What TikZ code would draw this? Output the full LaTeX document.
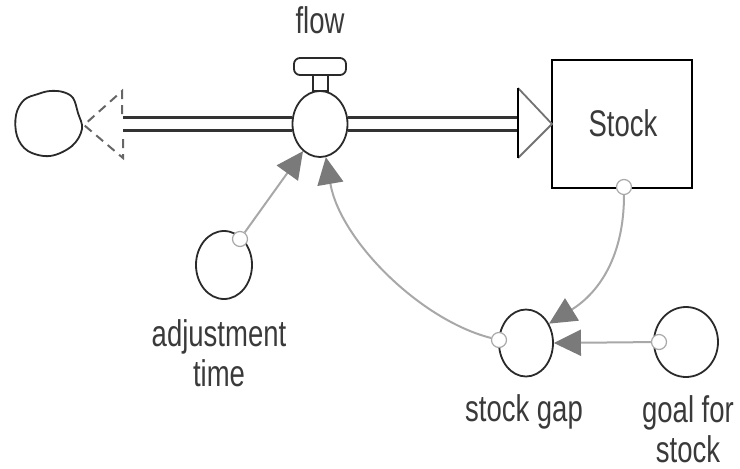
\documentclass[tikz,border=0pt]{standalone}
\usepackage{fontspec}
\setmainfont{Liberation Sans}
\usetikzlibrary{shapes.geometric,arrows.meta}
\definecolor{txt}{HTML}{3A3A3A}
\definecolor{edge}{HTML}{2A2A2A}
\definecolor{link}{HTML}{A8A8A8}
\definecolor{tip}{HTML}{7A7A7A}
\newcommand{\lbl}[1]{\scalebox{1}[1.35]{#1}}
\begin{document}
\begin{tikzpicture}[x=1pt,y=-1pt,
  aux/.style={draw=edge, line width=1.8pt, ellipse, inner sep=0pt},
  port/.style={draw=link, line width=1.2pt, fill=white, circle, inner sep=0pt, minimum size=15pt},
  infolink/.style={draw=link, line width=2pt,
    -{Triangle[length=27pt,width=26pt,fill=tip,color=tip]}},
  pipe/.style={draw=black!80, line width=3.2pt},
  label/.style={text=txt, font=\fontsize{27.5}{30}\selectfont, align=center, inner sep=0pt}]
\useasboundingbox (0,0) rectangle (740,469);

% source cloud
\draw[edge, line width=1.8pt] plot[smooth cycle, tension=0.6] coordinates
  {(24,100) (38,94) (50,91) (63,92) (73,98) (78,113) (82,129) (72,146)
   (50,156) (28,151) (17,136) (16,115)};
\coordinate (cloud) at (50,123);

% dashed inflow tip next to the cloud
\draw[black!60, line width=2pt, dash pattern=on 9pt off 6pt]
  (122,114) -- (122,91) -- (84,125) -- (123,158) -- (123,136);

% valve
\node[aux, minimum width=55pt, minimum height=66pt] (flowv) at (320,124) {};
\draw[edge, line width=1.8pt] (313,91) rectangle (328,75);
\draw[edge, line width=1.8pt, fill=white, rounded corners=6pt] (294,58) rectangle (346,75);
\node[label] (flowlbl) at (320,20) {\lbl{flow}};

% stock
\node[draw=black, line width=2.5pt, minimum width=140pt, minimum height=128pt, inner sep=0pt]
  (stock) at (622,124) {};
\node[label] (stocklbl) at (623,123) {\lbl{Stock}};

% pipes
\coordinate (pipeL) at (123,124);
\coordinate (pipeR) at (518,124);
\draw[pipe] ([yshift=-6.5pt]pipeL) -- ([yshift=-6.5pt]flowv.west);
\draw[pipe] ([yshift=6.5pt]pipeL) -- ([yshift=6.5pt]flowv.west);
\draw[pipe] ([yshift=-6.5pt]flowv.east) -- ([yshift=-6.5pt]pipeR);
\draw[pipe] ([yshift=6.5pt]flowv.east) -- ([yshift=6.5pt]pipeR);
\draw[black!55, line width=1.8pt] (518,88) -- (552,124) -- (518,158);
\draw[black, line width=2.2pt] (518,88) -- (518,158);

% auxiliaries
\node[aux, minimum width=56pt, minimum height=68pt] (adj) at (224,265) {};
\node[aux, minimum width=54pt, minimum height=67pt] (gap) at (526,343) {};
\node[aux, minimum width=64pt, minimum height=70pt] (goal) at (686,342) {};

\node[label] (adjlbl) at (219,353) {\lbl{adjustment}\\[4pt]\lbl{time}};
\node[label] (gaplbl) at (524,412) {\lbl{stock gap}};
\node[label] (goallbl) at (688,429) {\lbl{goal for}\\[4pt]\lbl{stock}};

% information links
\node[port] (adjp) at (240,239) {};
\node[port] (stockp) at (624,187) {};
\node[port] (gapp) at (499,340) {};
\node[port] (goalp) at (659,342) {};

\draw[infolink] (adjp) -- (flowv.-122);
\draw[infolink] (gapp) .. controls (420,320) and (340,240) .. (flowv.-80);
\draw[infolink] (stockp) .. controls (624,255) and (600,292) .. (gap.40);
\draw[infolink] (goalp) -- (gap.east);
\end{tikzpicture}
\end{document}
